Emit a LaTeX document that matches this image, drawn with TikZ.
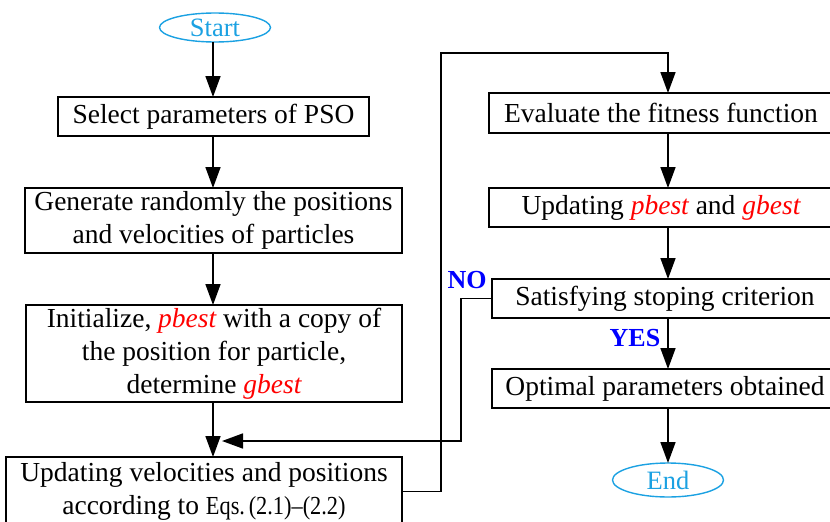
\documentclass[tikz,border=0pt]{standalone}
\usepackage{fontspec}
\usepackage{graphicx}
\setmainfont{Liberation Serif}
\usetikzlibrary{arrows.meta,shapes.geometric}
\definecolor{termblue}{RGB}{27,161,226}
\definecolor{kwred}{RGB}{255,0,0}
\definecolor{labblue}{RGB}{0,0,255}
\newcommand{\kw}[1]{\textcolor{kwred}{\itshape #1}}
\newcommand{\eqsref}{{\fontsize{26}{33}\selectfont\scalebox{0.86}[1]{Eqs.\,(2.1)–(2.2)}}}

\begin{document}
\begin{tikzpicture}[x=1pt,y=-1pt,
  proc/.style={draw,line width=1.6pt,inner sep=0pt,outer sep=0pt,align=center,
               font=\fontsize{27.5}{33}\selectfont},
  term/.style={draw=termblue,line width=1.4pt,ellipse,inner sep=0pt,outer sep=0pt,
               text=termblue,font=\fontsize{26.5}{30}\selectfont},
  flow/.style={line width=1.6pt,-{Triangle[length=21pt,width=15pt]}},
  ans/.style={text=labblue,inner sep=0pt,font=\bfseries\fontsize{26}{30}\selectfont}]

\useasboundingbox (0,0) rectangle (830,522);
\clip (0,0) rectangle (830,522);

% column axes for the vertical connectors
\coordinate (lx) at (213,0);
\coordinate (rx) at (668,0);

% left column
\node[term,minimum width=111pt,minimum height=29pt] (start) at (215,27.5) {Start};
\node[proc,minimum width=311pt,minimum height=39pt] (b1) at (213.5,116.5)
  {Select parameters of PSO};
\node[proc,minimum width=377pt,minimum height=65pt] (b2) at (213.5,220.5)
  {Generate randomly the positions\\and velocities of particles};
\node[proc,minimum width=376pt,minimum height=97pt] (b3) at (214,353.5)
  {Initialize, \kw{pbest} with a copy of\\the position for particle,\\determine \kw{gbest}};
\node[proc,minimum width=396pt,minimum height=69pt] (b4) at (204,491.5)
  {Updating velocities and positions\\according to \eqsref};

% right column
\node[proc,minimum width=344pt,minimum height=40pt] (b5) at (661,113)
  {Evaluate the fitness function};
\node[proc,minimum width=344pt,minimum height=39pt] (b6) at (661,207.5)
  {Updating \kw{pbest} and \kw{gbest}};
\node[proc,minimum width=346pt,minimum height=39pt] (b7) at (665,298.5)
  {Satisfying stoping criterion};
\node[proc,minimum width=346pt,minimum height=39pt] (b8) at (665,388.5)
  {Optimal parameters obtained};
\node[term,minimum width=111pt,minimum height=34pt] (end) at (668,480) {End};

% decision labels
\node[ans] (no) at (467,280) {NO};
\node[ans] (yes) at (635,338) {YES};

% main flow
\draw[flow] (start.south -| lx) -- (b1.north -| lx);
\draw[flow] (b1.south -| lx) -- (b2.north -| lx);
\draw[flow] (b2.south -| lx) -- (b3.north -| lx);
\draw[flow] (b3.south -| lx) -- (b4.north -| lx);
\draw[flow] (b5.south -| rx) -- (b6.north -| rx);
\draw[flow] (b6.south -| rx) -- (b7.north -| rx);
\draw[flow] (b7.south -| rx) -- (b8.north -| rx);
\draw[flow] (b8.south -| rx) -- (end.north -| rx);

% loop to the fitness evaluation
\coordinate (loopT) at (441,53);
\draw[flow] (b4.east) -| (loopT) -| (b5.north -| rx);

% return path when the criterion is not met
\coordinate (noX) at (461,441);
\coordinate (merge) at (222,441);
\draw[flow] (b7.west) -| (noX) -- (merge);
\end{tikzpicture}
\end{document}
